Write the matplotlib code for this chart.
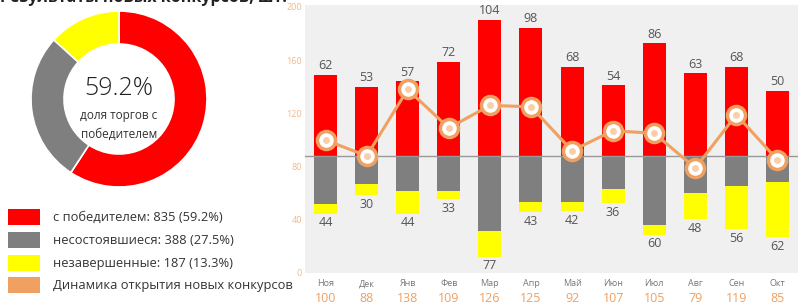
import matplotlib
matplotlib.use("Agg")
import matplotlib.pyplot as plt
from matplotlib.patches import Rectangle
from matplotlib.transforms import blended_transform_factory

plt.rcParams['font.family'] = ['Open Sans', 'DejaVu Sans']

months = ["Ноя", "Дек", "Янв", "Фев", "Мар", "Апр", "Май", "Июн", "Июл", "Авг", "Сен", "Окт"]
winners = [62, 53, 57, 72, 104, 98, 68, 54, 86, 63, 68, 50]
failed = [37, 21, 27, 27, 57, 35, 35, 25, 53, 28, 23, 20]
unfinished = [7, 9, 17, 6, 20, 8, 7, 11, 7, 20, 33, 42]
new_tenders = [100, 88, 138, 109, 126, 125, 92, 107, 105, 79, 119, 85]
left_ticks = [0, 40, 80, 120, 160, 200]

pie_values = [835, 388, 187]
pie_labels = ["с победителем: 835 (59.2%)", "несостоявшиеся: 388 (27.5%)",
              "незавершенные: 187 (13.3%)", "Динамика открытия новых конкурсов"]
center_pct = "59.2%"
center_sub = "доля торгов с\nпобедителем"
title = "Результаты новых конкурсов, шт."

RED = "#ff0000"
GREY = "#7f7f7f"
YELLOW = "#ffff00"
ORANGE = "#f0a060"

W, H = 798, 304
fig = plt.figure(figsize=(W / 100, H / 100), dpi=100)
fig.patch.set_facecolor("white")

def fx(px):
    return px / W

def fy(py):
    return 1 - py / H

# clipped title at very top (only its lower edge is visible, as in the reference)
fig.text(fx(0), fy(1.5), title, fontsize=11.5, color="#222222", fontweight="bold",
         ha="left", va="baseline")

# ---- donut ----
axp = fig.add_axes([fx(31), fy(187), fx(176), 176 / H])
axp.pie(pie_values, colors=[RED, GREY, YELLOW], startangle=90, counterclock=False,
        radius=1, wedgeprops=dict(width=0.375, edgecolor="white", linewidth=1.2))
axp.set_xlim(-1, 1)
axp.set_ylim(-1, 1)
axp.set_aspect("equal")
axp.axis("off")
axp.text(0, 0.12, center_pct, ha="center", va="center", fontsize=18, color="#222222",
         fontweight="light")
axp.text(0, -0.29, center_sub, ha="center", va="center", fontsize=8.5, color="#333333",
         linespacing=1.6)

# ---- legend ----
leg_colors = [RED, GREY, YELLOW, ORANGE]
leg_y = [217, 240, 263, 285]
for c, yy, lab in zip(leg_colors, leg_y, pie_labels):
    fig.add_artist(Rectangle((fx(8), fy(yy + 8)), fx(32), 16 / H, facecolor=c,
                             edgecolor="none", transform=fig.transFigure))
    fig.text(fx(53), fy(yy), lab, fontsize=9.3, color="#333333", ha="left", va="center")

# ---- bar chart ----
axb = fig.add_axes([fx(305), fy(273), fx(798 - 305), (273 - 5) / H])
axb.set_facecolor("#f0f0f0")
for s in axb.spines.values():
    s.set_visible(False)
x = list(range(len(months)))
bw = 0.56
axb.bar(x, winners, width=bw, color=RED, zorder=2)
neg_failed = [-v for v in failed]
neg_unf = [-v for v in unfinished]
axb.bar(x, neg_failed, width=bw, color=GREY, zorder=2)
axb.bar(x, neg_unf, width=bw, bottom=neg_failed, color=YELLOW, zorder=2)
axb.axhline(0, color="#999999", linewidth=1, zorder=3)
axb.set_xlim(-0.5, 11.5)
axb.set_ylim(-(273 - 156) / 1.31, (156 - 5) / 1.31)
axb.set_xticks([])
axb.set_yticks([])
for i in x:
    axb.text(i, winners[i] + 2, str(winners[i]), ha="center", va="bottom",
             fontsize=9, color="#555555", zorder=4)
    tot = failed[i] + unfinished[i]
    axb.text(i, -tot - 2, str(tot), ha="center", va="top",
             fontsize=9, color="#555555", zorder=4)

axl = axb.twinx()
axl.yaxis.tick_left()
axl.yaxis.set_label_position("left")
for s in axl.spines.values():
    s.set_visible(False)
axl.set_ylim(0, 200 * 268 / 266)
axl.set_yticks(left_ticks)
axl.tick_params(axis="y", length=0, pad=2, labelsize=6.5, labelcolor="#f2b888")
axl.plot(x, new_tenders, color=ORANGE, linewidth=2.2, zorder=5)
axl.plot(x, new_tenders, linestyle="none", marker="o", markersize=13,
         markerfacecolor="white", markeredgecolor=ORANGE, markeredgewidth=2.5, zorder=6)
axl.plot(x, new_tenders, linestyle="none", marker="o", markersize=5,
         markerfacecolor="#f8cfa8", markeredgecolor="none", zorder=7)

tr = blended_transform_factory(axb.transData, fig.transFigure)
for i in x:
    axb.text(i, fy(284), months[i], transform=tr, ha="center", va="center",
             fontsize=6.5, color="#777777")
    axb.text(i, fy(298), str(new_tenders[i]), transform=tr, ha="center", va="center",
             fontsize=9, color=ORANGE)

fig.savefig("out.png", dpi=100, facecolor="white")
